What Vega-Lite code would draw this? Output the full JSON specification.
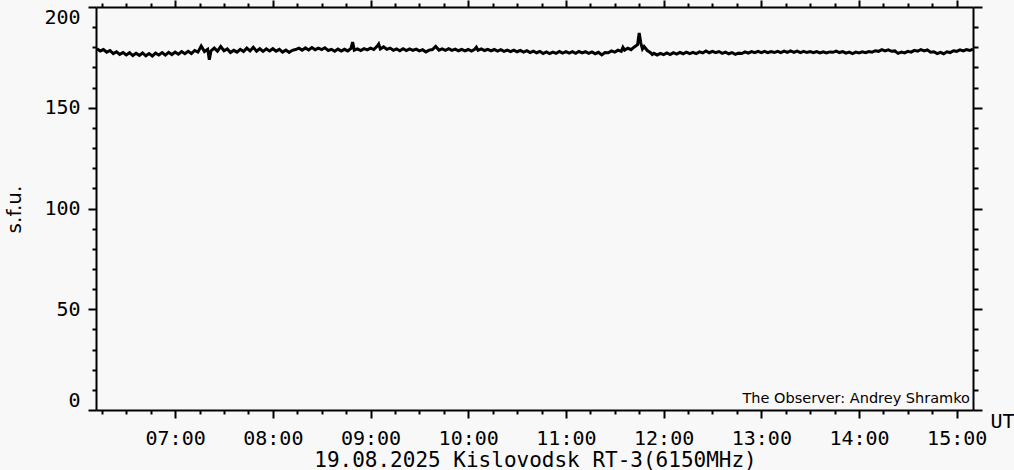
{
"$schema": "https://vega.github.io/schema/vega-lite/v6.json",
"width": 877, "height": 403,
"autosize": "none",
"padding": {"left": 96, "top": 7, "right": 41, "bottom": 60},
"background": "#f8f8f8",
"config": {"view": {"stroke": null}, "axis": {"grid": false, "domainColor": "#000", "tickColor": "#000", "labelColor": "#000", "titleColor": "#000", "domainWidth": 2, "tickWidth": 2, "titleFontWeight": "normal", "labelFont": "DejaVu Sans Mono", "labelFontSize": 20, "titleFont": "DejaVu Sans Mono", "titleFontSize": 20}},
"resolve": {"scale": {"x": "shared", "y": "shared"}, "axis": {"x": "independent", "y": "independent"}},
"layer": [
{
"data": {"values": [
{"t":"2025-08-19T06:12","v":179.3},{"t":"2025-08-19T06:14","v":178.2},{"t":"2025-08-19T06:16","v":178.9},{"t":"2025-08-19T06:18","v":177.6},{"t":"2025-08-19T06:20","v":178.4},{"t":"2025-08-19T06:22","v":176.9},{"t":"2025-08-19T06:24","v":177.8},{"t":"2025-08-19T06:26","v":176.5},{"t":"2025-08-19T06:28","v":177.4},{"t":"2025-08-19T06:30","v":176.2},{"t":"2025-08-19T06:32","v":177.3},{"t":"2025-08-19T06:34","v":175.9},{"t":"2025-08-19T06:36","v":177.0},{"t":"2025-08-19T06:38","v":176.0},{"t":"2025-08-19T06:40","v":177.2},{"t":"2025-08-19T06:42","v":175.8},{"t":"2025-08-19T06:44","v":176.9},{"t":"2025-08-19T06:46","v":175.7},{"t":"2025-08-19T06:48","v":177.1},{"t":"2025-08-19T06:50","v":176.2},{"t":"2025-08-19T06:52","v":177.4},{"t":"2025-08-19T06:54","v":176.1},{"t":"2025-08-19T06:56","v":177.5},{"t":"2025-08-19T06:58","v":176.4},
{"t":"2025-08-19T07:00","v":177.6},{"t":"2025-08-19T07:02","v":176.6},{"t":"2025-08-19T07:04","v":177.9},{"t":"2025-08-19T07:06","v":176.8},{"t":"2025-08-19T07:08","v":178.0},{"t":"2025-08-19T07:10","v":176.9},{"t":"2025-08-19T07:12","v":178.4},{"t":"2025-08-19T07:14","v":177.6},{"t":"2025-08-19T07:16","v":180.6},{"t":"2025-08-19T07:18","v":177.9},{"t":"2025-08-19T07:20","v":179.0},{"t":"2025-08-19T07:21","v":173.8},{"t":"2025-08-19T07:22","v":178.2},{"t":"2025-08-19T07:24","v":179.6},{"t":"2025-08-19T07:26","v":178.1},{"t":"2025-08-19T07:28","v":180.4},{"t":"2025-08-19T07:30","v":178.3},{"t":"2025-08-19T07:32","v":179.2},{"t":"2025-08-19T07:34","v":177.4},{"t":"2025-08-19T07:36","v":178.5},{"t":"2025-08-19T07:38","v":177.6},{"t":"2025-08-19T07:40","v":179.0},{"t":"2025-08-19T07:42","v":177.9},{"t":"2025-08-19T07:44","v":179.6},{"t":"2025-08-19T07:46","v":178.2},{"t":"2025-08-19T07:48","v":180.0},{"t":"2025-08-19T07:50","v":178.1},{"t":"2025-08-19T07:52","v":179.3},{"t":"2025-08-19T07:54","v":178.0},{"t":"2025-08-19T07:56","v":179.2},{"t":"2025-08-19T07:58","v":178.2},
{"t":"2025-08-19T08:00","v":179.3},{"t":"2025-08-19T08:02","v":178.1},{"t":"2025-08-19T08:04","v":179.0},{"t":"2025-08-19T08:06","v":177.6},{"t":"2025-08-19T08:08","v":178.6},{"t":"2025-08-19T08:10","v":177.5},{"t":"2025-08-19T08:12","v":178.5},{"t":"2025-08-19T08:14","v":178.9},{"t":"2025-08-19T08:16","v":179.6},{"t":"2025-08-19T08:18","v":178.6},{"t":"2025-08-19T08:20","v":179.7},{"t":"2025-08-19T08:22","v":178.7},{"t":"2025-08-19T08:24","v":179.9},{"t":"2025-08-19T08:26","v":178.8},{"t":"2025-08-19T08:28","v":179.6},{"t":"2025-08-19T08:30","v":178.9},{"t":"2025-08-19T08:32","v":179.8},{"t":"2025-08-19T08:34","v":178.4},{"t":"2025-08-19T08:36","v":179.0},{"t":"2025-08-19T08:38","v":178.0},{"t":"2025-08-19T08:40","v":179.1},{"t":"2025-08-19T08:42","v":178.1},{"t":"2025-08-19T08:44","v":179.0},{"t":"2025-08-19T08:46","v":178.2},{"t":"2025-08-19T08:48","v":179.5},{"t":"2025-08-19T08:49","v":182.6},{"t":"2025-08-19T08:50","v":178.6},{"t":"2025-08-19T08:52","v":179.2},{"t":"2025-08-19T08:54","v":178.4},{"t":"2025-08-19T08:56","v":179.3},{"t":"2025-08-19T08:58","v":178.7},
{"t":"2025-08-19T09:00","v":179.6},{"t":"2025-08-19T09:02","v":178.9},{"t":"2025-08-19T09:04","v":180.5},{"t":"2025-08-19T09:05","v":181.6},{"t":"2025-08-19T09:06","v":179.2},{"t":"2025-08-19T09:08","v":180.2},{"t":"2025-08-19T09:10","v":179.0},{"t":"2025-08-19T09:12","v":179.6},{"t":"2025-08-19T09:14","v":178.5},{"t":"2025-08-19T09:16","v":179.2},{"t":"2025-08-19T09:18","v":178.3},{"t":"2025-08-19T09:20","v":179.3},{"t":"2025-08-19T09:22","v":178.4},{"t":"2025-08-19T09:24","v":179.2},{"t":"2025-08-19T09:26","v":178.5},{"t":"2025-08-19T09:28","v":179.1},{"t":"2025-08-19T09:30","v":178.2},{"t":"2025-08-19T09:32","v":178.8},{"t":"2025-08-19T09:34","v":177.7},{"t":"2025-08-19T09:36","v":178.6},{"t":"2025-08-19T09:38","v":178.9},{"t":"2025-08-19T09:40","v":180.4},{"t":"2025-08-19T09:42","v":178.6},{"t":"2025-08-19T09:44","v":179.2},{"t":"2025-08-19T09:46","v":178.5},{"t":"2025-08-19T09:48","v":179.3},{"t":"2025-08-19T09:50","v":178.5},{"t":"2025-08-19T09:52","v":179.1},{"t":"2025-08-19T09:54","v":178.3},{"t":"2025-08-19T09:56","v":179.0},{"t":"2025-08-19T09:58","v":178.2},
{"t":"2025-08-19T10:00","v":178.9},{"t":"2025-08-19T10:02","v":178.1},{"t":"2025-08-19T10:04","v":179.0},{"t":"2025-08-19T10:05","v":180.0},{"t":"2025-08-19T10:06","v":178.5},{"t":"2025-08-19T10:08","v":179.2},{"t":"2025-08-19T10:10","v":178.4},{"t":"2025-08-19T10:12","v":179.0},{"t":"2025-08-19T10:14","v":178.2},{"t":"2025-08-19T10:16","v":178.9},{"t":"2025-08-19T10:18","v":178.1},{"t":"2025-08-19T10:20","v":178.8},{"t":"2025-08-19T10:22","v":178.0},{"t":"2025-08-19T10:24","v":178.6},{"t":"2025-08-19T10:26","v":177.9},{"t":"2025-08-19T10:28","v":178.6},{"t":"2025-08-19T10:30","v":177.8},{"t":"2025-08-19T10:32","v":178.5},{"t":"2025-08-19T10:34","v":177.6},{"t":"2025-08-19T10:36","v":178.3},{"t":"2025-08-19T10:38","v":177.4},{"t":"2025-08-19T10:40","v":178.1},{"t":"2025-08-19T10:42","v":177.3},{"t":"2025-08-19T10:44","v":178.0},{"t":"2025-08-19T10:46","v":176.9},{"t":"2025-08-19T10:48","v":177.7},{"t":"2025-08-19T10:50","v":176.9},{"t":"2025-08-19T10:52","v":177.6},{"t":"2025-08-19T10:54","v":177.0},{"t":"2025-08-19T10:56","v":177.9},{"t":"2025-08-19T10:58","v":177.1},
{"t":"2025-08-19T11:00","v":177.8},{"t":"2025-08-19T11:02","v":177.1},{"t":"2025-08-19T11:04","v":177.8},{"t":"2025-08-19T11:06","v":177.0},{"t":"2025-08-19T11:08","v":177.9},{"t":"2025-08-19T11:10","v":177.2},{"t":"2025-08-19T11:12","v":177.8},{"t":"2025-08-19T11:14","v":177.0},{"t":"2025-08-19T11:16","v":177.7},{"t":"2025-08-19T11:18","v":176.8},{"t":"2025-08-19T11:20","v":177.5},{"t":"2025-08-19T11:22","v":176.2},{"t":"2025-08-19T11:24","v":177.4},{"t":"2025-08-19T11:26","v":177.3},{"t":"2025-08-19T11:28","v":178.2},{"t":"2025-08-19T11:30","v":177.6},{"t":"2025-08-19T11:32","v":178.6},{"t":"2025-08-19T11:34","v":178.0},{"t":"2025-08-19T11:35","v":180.0},{"t":"2025-08-19T11:36","v":178.6},{"t":"2025-08-19T11:38","v":179.6},{"t":"2025-08-19T11:40","v":178.8},{"t":"2025-08-19T11:42","v":180.2},{"t":"2025-08-19T11:44","v":181.3},{"t":"2025-08-19T11:45","v":187.1},{"t":"2025-08-19T11:46","v":182.1},{"t":"2025-08-19T11:47","v":179.2},{"t":"2025-08-19T11:48","v":180.4},{"t":"2025-08-19T11:50","v":178.4},{"t":"2025-08-19T11:52","v":177.3},{"t":"2025-08-19T11:53","v":176.4},{"t":"2025-08-19T11:54","v":177.0},{"t":"2025-08-19T11:56","v":176.2},{"t":"2025-08-19T11:58","v":177.0},
{"t":"2025-08-19T12:00","v":176.4},{"t":"2025-08-19T12:02","v":177.2},{"t":"2025-08-19T12:04","v":176.4},{"t":"2025-08-19T12:06","v":177.3},{"t":"2025-08-19T12:08","v":176.6},{"t":"2025-08-19T12:10","v":177.5},{"t":"2025-08-19T12:12","v":176.8},{"t":"2025-08-19T12:14","v":177.6},{"t":"2025-08-19T12:16","v":176.9},{"t":"2025-08-19T12:18","v":177.5},{"t":"2025-08-19T12:20","v":176.9},{"t":"2025-08-19T12:22","v":177.7},{"t":"2025-08-19T12:24","v":177.2},{"t":"2025-08-19T12:26","v":178.2},{"t":"2025-08-19T12:28","v":177.3},{"t":"2025-08-19T12:30","v":178.0},{"t":"2025-08-19T12:32","v":177.3},{"t":"2025-08-19T12:34","v":177.9},{"t":"2025-08-19T12:36","v":177.0},{"t":"2025-08-19T12:38","v":177.6},{"t":"2025-08-19T12:40","v":176.8},{"t":"2025-08-19T12:42","v":177.4},{"t":"2025-08-19T12:44","v":176.5},{"t":"2025-08-19T12:46","v":177.1},{"t":"2025-08-19T12:48","v":176.9},{"t":"2025-08-19T12:50","v":177.7},{"t":"2025-08-19T12:52","v":177.1},{"t":"2025-08-19T12:54","v":177.9},{"t":"2025-08-19T12:56","v":177.3},{"t":"2025-08-19T12:58","v":178.0},
{"t":"2025-08-19T13:00","v":177.4},{"t":"2025-08-19T13:02","v":178.0},{"t":"2025-08-19T13:04","v":177.3},{"t":"2025-08-19T13:06","v":177.9},{"t":"2025-08-19T13:08","v":177.4},{"t":"2025-08-19T13:10","v":178.0},{"t":"2025-08-19T13:12","v":177.4},{"t":"2025-08-19T13:14","v":178.1},{"t":"2025-08-19T13:16","v":177.5},{"t":"2025-08-19T13:18","v":178.2},{"t":"2025-08-19T13:20","v":177.5},{"t":"2025-08-19T13:22","v":178.1},{"t":"2025-08-19T13:24","v":177.4},{"t":"2025-08-19T13:26","v":178.0},{"t":"2025-08-19T13:28","v":177.4},{"t":"2025-08-19T13:30","v":177.9},{"t":"2025-08-19T13:32","v":177.3},{"t":"2025-08-19T13:34","v":177.9},{"t":"2025-08-19T13:36","v":177.2},{"t":"2025-08-19T13:38","v":177.8},{"t":"2025-08-19T13:40","v":177.2},{"t":"2025-08-19T13:42","v":177.7},{"t":"2025-08-19T13:44","v":177.5},{"t":"2025-08-19T13:46","v":178.1},{"t":"2025-08-19T13:48","v":177.4},{"t":"2025-08-19T13:50","v":177.9},{"t":"2025-08-19T13:52","v":177.1},{"t":"2025-08-19T13:54","v":177.6},{"t":"2025-08-19T13:56","v":176.9},{"t":"2025-08-19T13:58","v":177.6},
{"t":"2025-08-19T14:00","v":177.2},{"t":"2025-08-19T14:02","v":177.8},{"t":"2025-08-19T14:04","v":177.3},{"t":"2025-08-19T14:06","v":177.9},{"t":"2025-08-19T14:08","v":177.6},{"t":"2025-08-19T14:10","v":178.3},{"t":"2025-08-19T14:12","v":178.0},{"t":"2025-08-19T14:14","v":178.8},{"t":"2025-08-19T14:16","v":178.2},{"t":"2025-08-19T14:18","v":178.7},{"t":"2025-08-19T14:20","v":178.0},{"t":"2025-08-19T14:22","v":178.2},{"t":"2025-08-19T14:24","v":177.0},{"t":"2025-08-19T14:26","v":177.6},{"t":"2025-08-19T14:28","v":177.2},{"t":"2025-08-19T14:30","v":178.0},{"t":"2025-08-19T14:32","v":177.6},{"t":"2025-08-19T14:34","v":178.5},{"t":"2025-08-19T14:36","v":178.1},{"t":"2025-08-19T14:38","v":178.8},{"t":"2025-08-19T14:40","v":178.2},{"t":"2025-08-19T14:42","v":178.7},{"t":"2025-08-19T14:44","v":177.6},{"t":"2025-08-19T14:46","v":177.8},{"t":"2025-08-19T14:48","v":176.9},{"t":"2025-08-19T14:50","v":177.5},{"t":"2025-08-19T14:52","v":176.8},{"t":"2025-08-19T14:54","v":177.8},{"t":"2025-08-19T14:56","v":177.4},{"t":"2025-08-19T14:58","v":178.3},
{"t":"2025-08-19T15:00","v":178.0},{"t":"2025-08-19T15:02","v":178.7},{"t":"2025-08-19T15:04","v":178.2},{"t":"2025-08-19T15:06","v":178.9},{"t":"2025-08-19T15:08","v":178.4},{"t":"2025-08-19T15:10","v":179.1}
]},
"mark": {"type": "line", "color": "#000", "strokeWidth": 3},
"encoding": {
"x": {"field": "t", "type": "temporal", "scale": {"domain": [{"year": 2025, "month": 8, "date": 19, "hours": 6, "minutes": 11, "seconds": 24}, {"year": 2025, "month": 8, "date": 19, "hours": 15, "minutes": 10}], "nice": false},
 "axis": {"orient": "bottom", "values": [{"year":2025,"month":8,"date":19,"hours":7},{"year":2025,"month":8,"date":19,"hours":8},{"year":2025,"month":8,"date":19,"hours":9},{"year":2025,"month":8,"date":19,"hours":10},{"year":2025,"month":8,"date":19,"hours":11},{"year":2025,"month":8,"date":19,"hours":12},{"year":2025,"month":8,"date":19,"hours":13},{"year":2025,"month":8,"date":19,"hours":14},{"year":2025,"month":8,"date":19,"hours":15}], "format": "%H:%M", "tickSize": 8, "labelPadding": 10, "labelFlush": false, "title": "19.08.2025 Kislovodsk RT-3(6150MHz)", "titleX": 439, "titleY": 56, "titleAlign": "center", "titleBaseline": "alphabetic", "titleFontSize": 21}},
"y": {"field": "v", "type": "quantitative", "scale": {"domain": [0, 200], "nice": false, "zero": false},
 "axis": {"orient": "left", "values": [0, 50, 100, 150, 200], "tickSize": 8, "labelPadding": 8, "labelFlush": true, "title": "s.f.u.", "titleFont": "DejaVu Sans", "titleAngle": 270, "titleX": -76, "titleY": 202, "titleAlign": "center", "titleBaseline": "alphabetic"}}
}
},
{
"data": {"values": [{"t": "2025-08-19T15:10", "v": 0, "note": "The Observer: Andrey Shramko"}]},
"mark": {"type": "text", "align": "right", "baseline": "alphabetic", "dx": -3, "dy": -7, "font": "DejaVu Sans", "fontSize": 14.5, "color": "#000"},
"encoding": {
"x": {"field": "t", "type": "temporal", "scale": {"domain": [{"year": 2025, "month": 8, "date": 19, "hours": 6, "minutes": 11, "seconds": 24}, {"year": 2025, "month": 8, "date": 19, "hours": 15, "minutes": 10}], "nice": false},
 "axis": {"orient": "bottom", "values": [{"year":2025,"month":8,"date":19,"hours":6,"minutes":15},{"year":2025,"month":8,"date":19,"hours":6,"minutes":30},{"year":2025,"month":8,"date":19,"hours":6,"minutes":45},{"year":2025,"month":8,"date":19,"hours":7,"minutes":15},{"year":2025,"month":8,"date":19,"hours":7,"minutes":30},{"year":2025,"month":8,"date":19,"hours":7,"minutes":45},{"year":2025,"month":8,"date":19,"hours":8,"minutes":15},{"year":2025,"month":8,"date":19,"hours":8,"minutes":30},{"year":2025,"month":8,"date":19,"hours":8,"minutes":45},{"year":2025,"month":8,"date":19,"hours":9,"minutes":15},{"year":2025,"month":8,"date":19,"hours":9,"minutes":30},{"year":2025,"month":8,"date":19,"hours":9,"minutes":45},{"year":2025,"month":8,"date":19,"hours":10,"minutes":15},{"year":2025,"month":8,"date":19,"hours":10,"minutes":30},{"year":2025,"month":8,"date":19,"hours":10,"minutes":45},{"year":2025,"month":8,"date":19,"hours":11,"minutes":15},{"year":2025,"month":8,"date":19,"hours":11,"minutes":30},{"year":2025,"month":8,"date":19,"hours":11,"minutes":45},{"year":2025,"month":8,"date":19,"hours":12,"minutes":15},{"year":2025,"month":8,"date":19,"hours":12,"minutes":30},{"year":2025,"month":8,"date":19,"hours":12,"minutes":45},{"year":2025,"month":8,"date":19,"hours":13,"minutes":15},{"year":2025,"month":8,"date":19,"hours":13,"minutes":30},{"year":2025,"month":8,"date":19,"hours":13,"minutes":45},{"year":2025,"month":8,"date":19,"hours":14,"minutes":15},{"year":2025,"month":8,"date":19,"hours":14,"minutes":30},{"year":2025,"month":8,"date":19,"hours":14,"minutes":45}], "tickSize": 4, "labels": false, "domain": false, "title": "UT", "titleX": 894, "titleY": 17, "titleAlign": "left", "titleBaseline": "alphabetic"}},
"y": {"field": "v", "type": "quantitative", "scale": {"domain": [0, 200], "nice": false, "zero": false},
 "axis": {"orient": "left", "values": [10,20,30,40,60,70,80,90,110,120,130,140,160,170,180,190], "tickSize": 4, "labels": false, "domain": false, "title": null}},
"text": {"field": "note"}
}
},
{
"data": {"values": [{"t": "2025-08-19T15:10", "v": 0}]},
"mark": {"type": "point", "opacity": 0},
"encoding": {
"x": {"field": "t", "type": "temporal", "scale": {"domain": [{"year": 2025, "month": 8, "date": 19, "hours": 6, "minutes": 11, "seconds": 24}, {"year": 2025, "month": 8, "date": 19, "hours": 15, "minutes": 10}], "nice": false},
 "axis": {"orient": "top", "values": [{"year":2025,"month":8,"date":19,"hours":7},{"year":2025,"month":8,"date":19,"hours":8},{"year":2025,"month":8,"date":19,"hours":9},{"year":2025,"month":8,"date":19,"hours":10},{"year":2025,"month":8,"date":19,"hours":11},{"year":2025,"month":8,"date":19,"hours":12},{"year":2025,"month":8,"date":19,"hours":13},{"year":2025,"month":8,"date":19,"hours":14},{"year":2025,"month":8,"date":19,"hours":15}], "tickSize": 7, "labels": false, "domain": true, "title": null}},
"y": {"field": "v", "type": "quantitative", "scale": {"domain": [0, 200], "nice": false, "zero": false},
 "axis": {"orient": "right", "values": [0, 50, 100, 150, 200], "tickSize": 9, "labels": false, "domain": true, "title": null}}
}
},
{
"data": {"values": [{"t": "2025-08-19T15:10", "v": 0}]},
"mark": {"type": "point", "opacity": 0},
"encoding": {
"x": {"field": "t", "type": "temporal", "scale": {"domain": [{"year": 2025, "month": 8, "date": 19, "hours": 6, "minutes": 11, "seconds": 24}, {"year": 2025, "month": 8, "date": 19, "hours": 15, "minutes": 10}], "nice": false},
 "axis": {"orient": "top", "values": [{"year":2025,"month":8,"date":19,"hours":6,"minutes":15},{"year":2025,"month":8,"date":19,"hours":6,"minutes":30},{"year":2025,"month":8,"date":19,"hours":6,"minutes":45},{"year":2025,"month":8,"date":19,"hours":7,"minutes":15},{"year":2025,"month":8,"date":19,"hours":7,"minutes":30},{"year":2025,"month":8,"date":19,"hours":7,"minutes":45},{"year":2025,"month":8,"date":19,"hours":8,"minutes":15},{"year":2025,"month":8,"date":19,"hours":8,"minutes":30},{"year":2025,"month":8,"date":19,"hours":8,"minutes":45},{"year":2025,"month":8,"date":19,"hours":9,"minutes":15},{"year":2025,"month":8,"date":19,"hours":9,"minutes":30},{"year":2025,"month":8,"date":19,"hours":9,"minutes":45},{"year":2025,"month":8,"date":19,"hours":10,"minutes":15},{"year":2025,"month":8,"date":19,"hours":10,"minutes":30},{"year":2025,"month":8,"date":19,"hours":10,"minutes":45},{"year":2025,"month":8,"date":19,"hours":11,"minutes":15},{"year":2025,"month":8,"date":19,"hours":11,"minutes":30},{"year":2025,"month":8,"date":19,"hours":11,"minutes":45},{"year":2025,"month":8,"date":19,"hours":12,"minutes":15},{"year":2025,"month":8,"date":19,"hours":12,"minutes":30},{"year":2025,"month":8,"date":19,"hours":12,"minutes":45},{"year":2025,"month":8,"date":19,"hours":13,"minutes":15},{"year":2025,"month":8,"date":19,"hours":13,"minutes":30},{"year":2025,"month":8,"date":19,"hours":13,"minutes":45},{"year":2025,"month":8,"date":19,"hours":14,"minutes":15},{"year":2025,"month":8,"date":19,"hours":14,"minutes":30},{"year":2025,"month":8,"date":19,"hours":14,"minutes":45}], "tickSize": 4, "labels": false, "domain": false, "title": null}},
"y": {"field": "v", "type": "quantitative", "scale": {"domain": [0, 200], "nice": false, "zero": false},
 "axis": {"orient": "right", "values": [10,20,30,40,60,70,80,90,110,120,130,140,160,170,180,190], "tickSize": 5, "labels": false, "domain": false, "title": null}}
}
}
]
}
